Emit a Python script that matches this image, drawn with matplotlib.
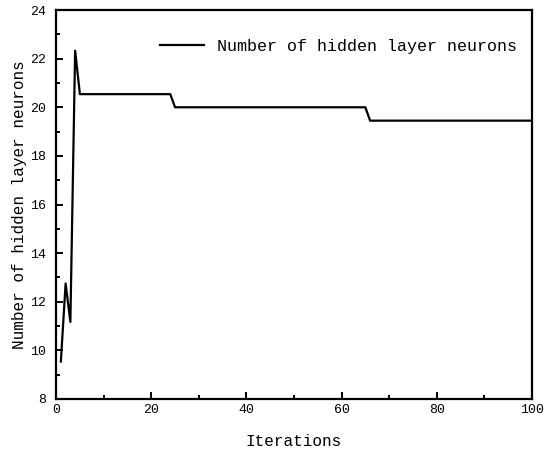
import numpy as np
import matplotlib
matplotlib.use("Agg")
import matplotlib.pyplot as plt
from matplotlib.ticker import MultipleLocator

# values (iteration, neurons)
iterations = [1, 2, 3, 4, 5, 24, 25, 65, 66, 100]
neurons = [9.54, 12.75, 11.17, 22.33, 20.54, 20.54, 20.0, 20.0, 19.45, 19.45]

plt.rcParams['font.family'] = ['Liberation Mono', 'DejaVu Sans']

fig = plt.figure(figsize=(5.5, 4.57), dpi=100)
ax = fig.add_axes([0.102, 0.127, 0.865, 0.851])

ax.plot(iterations, neurons, color='black', linewidth=1.6,
        label='Number of hidden layer neurons')

ax.set_xlim(0, 100)
ax.set_ylim(8, 24)
ax.xaxis.set_major_locator(MultipleLocator(20))
ax.xaxis.set_minor_locator(MultipleLocator(10))
ax.yaxis.set_major_locator(MultipleLocator(2))
ax.yaxis.set_minor_locator(MultipleLocator(1))
ax.tick_params(which='both', direction='in', width=1.4, labelsize=9.5,
               top=False, right=False)
ax.tick_params(which='major', length=5)
ax.tick_params(axis='y', which='major', pad=7)
ax.tick_params(which='minor', length=3)
for s in ax.spines.values():
    s.set_linewidth(1.6)

ax.set_xlabel('Iterations', fontsize=11.5, labelpad=13)
ax.set_ylabel('Number of hidden layer neurons', fontsize=11.5, labelpad=2.5)

ax.legend(loc='upper right', bbox_to_anchor=(1.0, 0.965), frameon=False,
          fontsize=12, handlelength=2.6)

fig.savefig('out.png', dpi=100)
